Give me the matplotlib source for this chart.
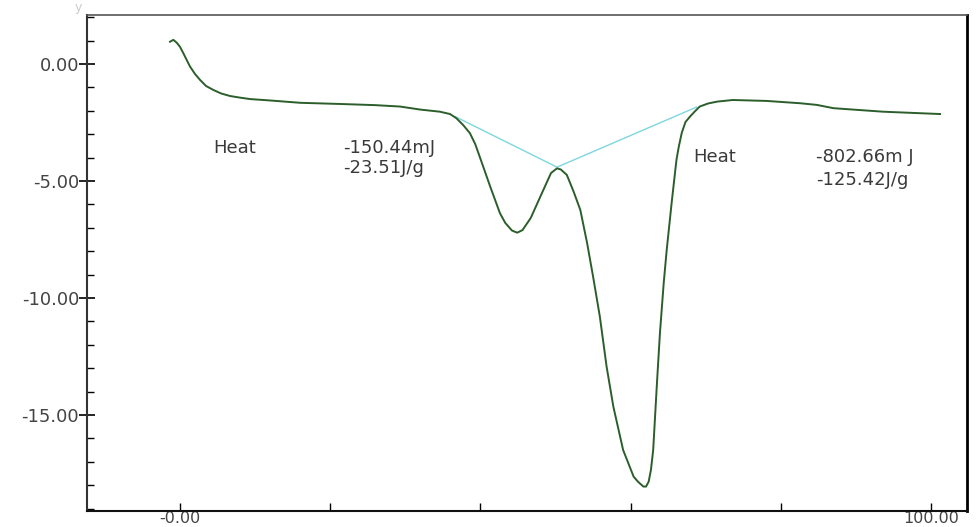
import numpy as np
import matplotlib
matplotlib.use("Agg")
import matplotlib.pyplot as plt
from matplotlib.ticker import FixedLocator, FixedFormatter, MultipleLocator

# DSC curve (temperature-ish x, heat flow y)
curve_x = [-1.33, -0.89, -0.44, 0.0, 0.44, 0.89, 1.33, 2.0, 2.66, 3.46,
           4.43, 5.46, 6.66, 8.0, 9.32, 11.98, 16.0, 21.3, 26.0, 29.3,
           32.0, 34.6, 35.95, 36.8, 37.7, 38.6, 39.3, 39.9, 41.3, 42.6,
           43.3, 44.2, 44.9, 45.6, 46.7, 48.2, 49.4, 50.2, 50.7, 51.5, 52.4,
           53.3, 54.2, 55.0, 55.9, 56.8, 57.7, 59.0, 60.4, 61.0, 61.7,
           62.05, 62.4, 62.7, 63.0, 63.5, 63.9, 64.4, 64.8, 65.5, 66.1,
           66.4, 66.8, 67.3, 67.9, 68.6, 69.2, 70.3, 71.5, 73.6, 78.1,
           82.6, 84.8, 87.0, 93.6, 101.2]
curve_y = [0.95, 1.03, 0.91, 0.73, 0.46, 0.17, -0.11, -0.43, -0.68, -0.94,
           -1.11, -1.26, -1.37, -1.44, -1.50, -1.56, -1.66, -1.71, -1.76, -1.82,
           -1.95, -2.04, -2.14, -2.32, -2.61, -2.96, -3.42, -3.96, -5.24, -6.38,
           -6.79, -7.12, -7.21, -7.10, -6.58, -5.51, -4.66, -4.46, -4.51, -4.74, -5.45,
           -6.24, -7.65, -9.09, -10.8, -12.94, -14.65, -16.5, -17.64, -17.86, -18.06,
           -18.06, -17.85, -17.35, -16.5, -13.65, -11.5, -9.37, -7.95, -5.81, -4.1,
           -3.55, -2.95, -2.48, -2.25, -2.01, -1.82, -1.69, -1.61, -1.54, -1.58,
           -1.68, -1.75, -1.89, -2.04, -2.14]

# integration baselines
base_x = [36.7, 50.2, 68.8]
base_y = [-2.26, -4.41, -1.84]

# labels for the two peaks: (x, y, text)
notes = [(4.4, -3.59, "Heat"),
         (21.7, -3.59, "-150.44mJ"),
         (21.7, -4.44, "-23.51J/g"),
         (68.3, -3.97, "Heat"),
         (84.7, -3.97, "-802.66m J"),
         (84.7, -4.96, "-125.42J/g")]

y_major = [-15, -10, -5, 0]
y_labels = ["-15.00", "-10.00", "-5.00", "0.00"]
x_major = [0, 20, 40, 60, 80, 100]
x_labels = ["-0.00", "", "", "", "", "100.00"]

fig = plt.figure(figsize=(9.77, 5.27), dpi=100)
ax = fig.add_axes([0.0894, 0.031, 0.9001, 0.940])

ax.plot(base_x, base_y, color="#7fd6de", lw=1.0, zorder=2)
ax.plot(curve_x, curve_y, color="#2b5e2b", lw=1.4, zorder=3)

for x, y, t in notes:
    ax.text(x, y, t, fontsize=13, color="#3a3a3a", va="center", ha="left",
            family="DejaVu Sans")

ax.set_xlim(-12.34, 104.75)
ax.set_ylim(-19.09, 2.08)

ax.yaxis.set_major_locator(FixedLocator(y_major))
ax.yaxis.set_major_formatter(FixedFormatter(y_labels))
ax.yaxis.set_minor_locator(MultipleLocator(1))
ax.xaxis.set_major_locator(FixedLocator(x_major))
ax.xaxis.set_major_formatter(FixedFormatter(x_labels))

ax.tick_params(axis="y", which="major", direction="inout", length=12, width=1.2,
               labelsize=13, labelcolor="#444444", pad=0)
ax.tick_params(axis="y", which="minor", direction="in", length=5, width=1.0)
ax.tick_params(axis="x", which="major", direction="in", length=6, width=1.0,
               labelsize=11.5, labelcolor="#444444", pad=0)

ax.spines["left"].set_color("#333333")
ax.spines["left"].set_linewidth(1.5)
ax.spines["bottom"].set_color("#111111")
ax.spines["bottom"].set_linewidth(1.5)
ax.spines["top"].set_color("#555555")
ax.spines["top"].set_linewidth(1.2)
ax.spines["right"].set_color("#000000")
ax.spines["right"].set_linewidth(2.0)

# faint leftover axis letter at the top left
fig.text(0.080, 0.985, "y", fontsize=9, color="#cccccc", ha="center", va="center")

fig.savefig("out.png", dpi=100)
